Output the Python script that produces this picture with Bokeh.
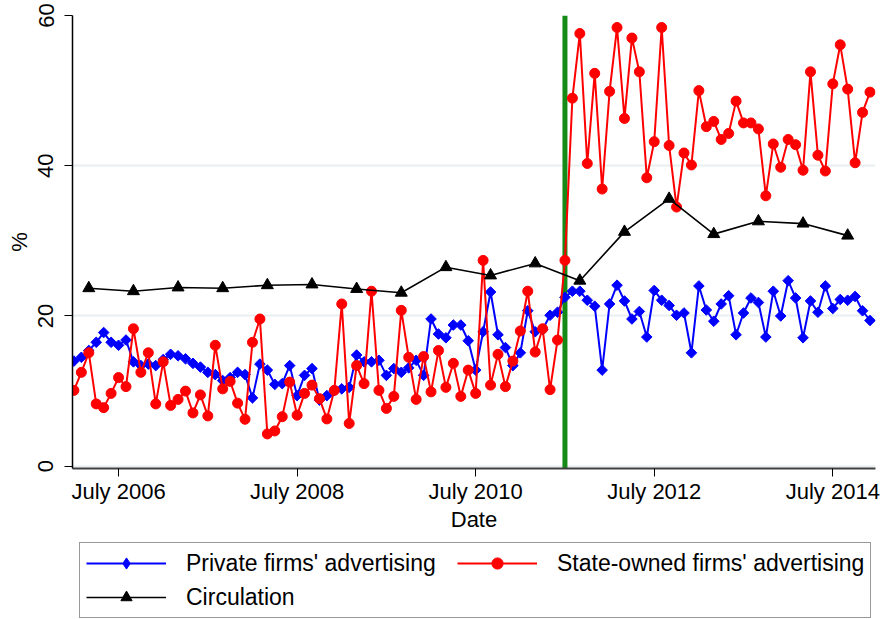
import math
import pandas as pd
from bokeh.plotting import figure
from bokeh.layouts import column
from bokeh.models import Range1d, FixedTicker, Span, Legend, LegendItem
from bokeh.embed import file_html
from bokeh.resources import INLINE

# ---------------- data ----------------
start_month = "2006-01"  # monthly series, Jan 2006 .. Dec 2014

private_ad = [14.0, 14.5, 15.4, 16.5, 17.8, 16.5, 16.1, 16.8, 13.9, 13.4,
              13.6, 13.4, 14.2, 14.9, 14.7, 14.3, 13.7, 13.2, 12.5, 12.2,
              11.4, 11.8, 12.5, 12.2, 9.1, 13.6, 12.8, 10.9, 11.0, 13.4,
              9.4, 12.1, 13.0, 8.8, 9.4, 10.1, 10.3, 10.5, 14.8, 13.9,
              13.9, 14.1, 12.1, 13.0, 12.5, 13.1, 14.1, 12.1, 19.6, 17.6,
              17.1, 18.8, 18.8, 16.7, 12.8, 17.9, 23.2, 17.5, 15.8, 13.4,
              15.1, 20.7, 17.9, 18.2, 20.1, 20.5, 22.5, 23.3, 23.3, 22.1,
              21.3, 12.8, 21.6, 24.1, 22.0, 19.6, 20.6, 17.2, 23.4, 22.1,
              21.4, 20.1, 20.4, 15.1, 24.0, 20.8, 19.3, 21.6, 22.7, 17.5,
              20.4, 22.4, 21.8, 17.2, 23.3, 20.0, 24.7, 22.4, 17.1, 22.0,
              20.5, 24.0, 21.0, 22.2, 22.1, 22.6, 20.7, 19.4]

state_ad = [10.1, 12.5, 15.1, 8.3, 7.8, 9.7, 11.8, 10.6, 18.3, 12.5,
            15.1, 8.3, 13.9, 8.1, 8.9, 10.0, 7.1, 9.5, 6.7, 16.1,
            10.3, 11.3, 8.4, 6.25, 16.5, 19.6, 4.3, 4.7, 6.6, 11.2,
            6.8, 9.7, 10.8, 9.0, 6.3, 10.1, 21.6, 5.7, 13.4, 11.0,
            23.3, 10.1, 7.7, 9.3, 20.75, 14.5, 8.9, 14.6, 9.9, 15.4,
            10.5, 13.7, 9.3, 12.8, 9.7, 27.4, 10.8, 14.9, 10.6, 14.0,
            18.0, 23.3, 15.2, 18.3, 10.2, 16.8, 27.4, 49.0, 57.6, 40.3,
            52.3, 36.9, 49.9, 58.4, 46.3, 57.0, 52.5, 38.4, 43.2, 58.4,
            42.7, 34.5, 41.7, 40.1, 50.0, 45.2, 45.9, 43.5, 44.3, 48.6,
            45.7, 45.7, 44.9, 36.0, 42.9, 39.8, 43.5, 42.8, 39.4, 52.5,
            41.4, 39.3, 50.9, 56.1, 50.2, 40.4, 47.1, 49.8]

circ_months = ["2006-03", "2006-09", "2007-03", "2007-09", "2008-03", "2008-09",
               "2009-03", "2009-09", "2010-03", "2010-09", "2011-03", "2011-09",
               "2012-03", "2012-09", "2013-03", "2013-09", "2014-03", "2014-09"]
circulation = [23.7, 23.3, 23.8, 23.7, 24.1, 24.2, 23.6, 23.1, 26.5,
               25.4, 27.0, 24.7, 31.2, 35.6, 30.9, 32.6, 32.3, 30.7]

tick_months = ["2006-07", "2008-07", "2010-07", "2012-07", "2014-07"]
tick_labels = ["July 2006", "July 2008", "July 2010", "July 2012", "July 2014"]
event_month = "2011-07"
y_ticks = [0, 20, 40, 60]

series_labels = ["Private firms' advertising", "State-owned firms' advertising",
                 "Circulation"]

# ---------------- helpers ----------------
base = pd.Period(start_month, freq="M")


def midx(s):
    return (pd.Period(s, freq="M") - base).n


x_adv = list(range(len(private_ad)))
x_circ = [midx(m) for m in circ_months]
x_ticks = [midx(m) for m in tick_months]

FONT = "Liberation Sans"
BLUE, RED, BLACK = "#0000ff", "#ff0000", "black"

p = figure(width=881, height=534, output_backend="svg", toolbar_location=None,
           x_range=Range1d(-0.19, 107.74), y_range=Range1d(-0.3, 60),
           min_border_left=72, min_border_right=6, min_border_top=15,
           min_border_bottom=66)
p.outline_line_color = None
p.background_fill_color = "white"
p.border_fill_color = "white"

# grid
p.xgrid.grid_line_color = None
p.ygrid.grid_line_color = "#e8eff1"
p.ygrid.grid_line_width = 2

# event line
p.add_layout(Span(location=midx(event_month), dimension="height",
                  line_color="#168a16", line_width=5, level="underlay"))


def draw_series(fig, xs, ys, color, marker, size, angle, lw):
    ln = fig.line(xs, ys, line_color=color, line_width=lw)
    sc = fig.scatter(xs, ys, marker=marker, size=size, angle=angle,
                     fill_color=color, line_color=color)
    return ln, sc


draw_series(p, x_adv, private_ad, BLUE, "square", 7.5, math.pi / 4, 2)
draw_series(p, x_adv, state_ad, RED, "circle", 10, 0, 2)
draw_series(p, x_circ, circulation, BLACK, "triangle", 12, 0, 1.6)

# axes
xa = p.xaxis[0]
xa.ticker = FixedTicker(ticks=x_ticks)
xa.major_label_overrides = {t: l for t, l in zip(x_ticks, tick_labels)}
xa.minor_tick_line_color = None
xa.major_tick_out = 8
xa.major_tick_in = 0
xa.axis_line_color = "#404040"
xa.axis_line_width = 2
xa.major_label_text_font = FONT
xa.major_label_text_font_size = "22px"
xa.major_label_text_color = "black"
xa.major_label_standoff = 2
xa.axis_label = "Date"
xa.axis_label_text_font = FONT
xa.axis_label_text_font_size = "22px"
xa.axis_label_text_font_style = "normal"
xa.axis_label_text_color = "black"
xa.axis_label_standoff = 0

ya = p.yaxis[0]
ya.ticker = FixedTicker(ticks=y_ticks)
ya.minor_tick_line_color = None
ya.major_tick_out = 8
ya.major_tick_in = 0
ya.axis_line_color = "black"
ya.axis_line_width = 1.5
ya.major_label_orientation = "vertical"
ya.major_label_text_font = FONT
ya.major_label_text_font_size = "22px"
ya.major_label_text_color = "black"
ya.major_label_standoff = 11
ya.axis_label = "%"
ya.axis_label_text_font = FONT
ya.axis_label_text_font_size = "22px"
ya.axis_label_text_font_style = "normal"
ya.axis_label_text_color = "black"
ya.axis_label_standoff = 4

# ---------------- legend panel ----------------
lg = figure(width=881, height=85, output_backend="svg", toolbar_location=None,
            x_range=Range1d(0, 1), y_range=Range1d(0, 1),
            x_axis_type=None, y_axis_type=None,
            min_border_left=72, min_border_right=6,
            min_border_top=0, min_border_bottom=0)
lg.outline_line_color = None
lg.grid.visible = False
lg.background_fill_color = "white"
lg.border_fill_color = "white"

# legend-sample renderers: a single point placed outside the visible range
off = [-5]
b = draw_series(lg, off, off, BLUE, "diamond", 12, 0, 2)
r = draw_series(lg, off, off, RED, "circle", 10, 0, 2)
k = draw_series(lg, off, off, BLACK, "triangle", 12, 0, 1.6)

legend = Legend(items=[
    LegendItem(label=series_labels[0], renderers=list(b)),
    LegendItem(label=series_labels[1], renderers=list(r)),
    LegendItem(label=series_labels[2], renderers=list(k)),
], location=(7, 1), orientation="horizontal", ncols=2)
legend.glyph_width = 80
legend.glyph_height = 28
legend.label_standoff = 20
legend.label_width = 265
legend.spacing = 6
legend.padding = 6
legend.margin = 0
legend.label_text_font = FONT
legend.label_text_font_size = "23px"
legend.label_text_color = "black"
legend.border_line_color = "#333333"
legend.border_line_width = 1.5
legend.background_fill_color = "white"
legend.background_fill_alpha = 1.0
lg.add_layout(legend, "center")

layout = column(p, lg, spacing=0)
open("out.html", "w").write(file_html(layout, INLINE))
